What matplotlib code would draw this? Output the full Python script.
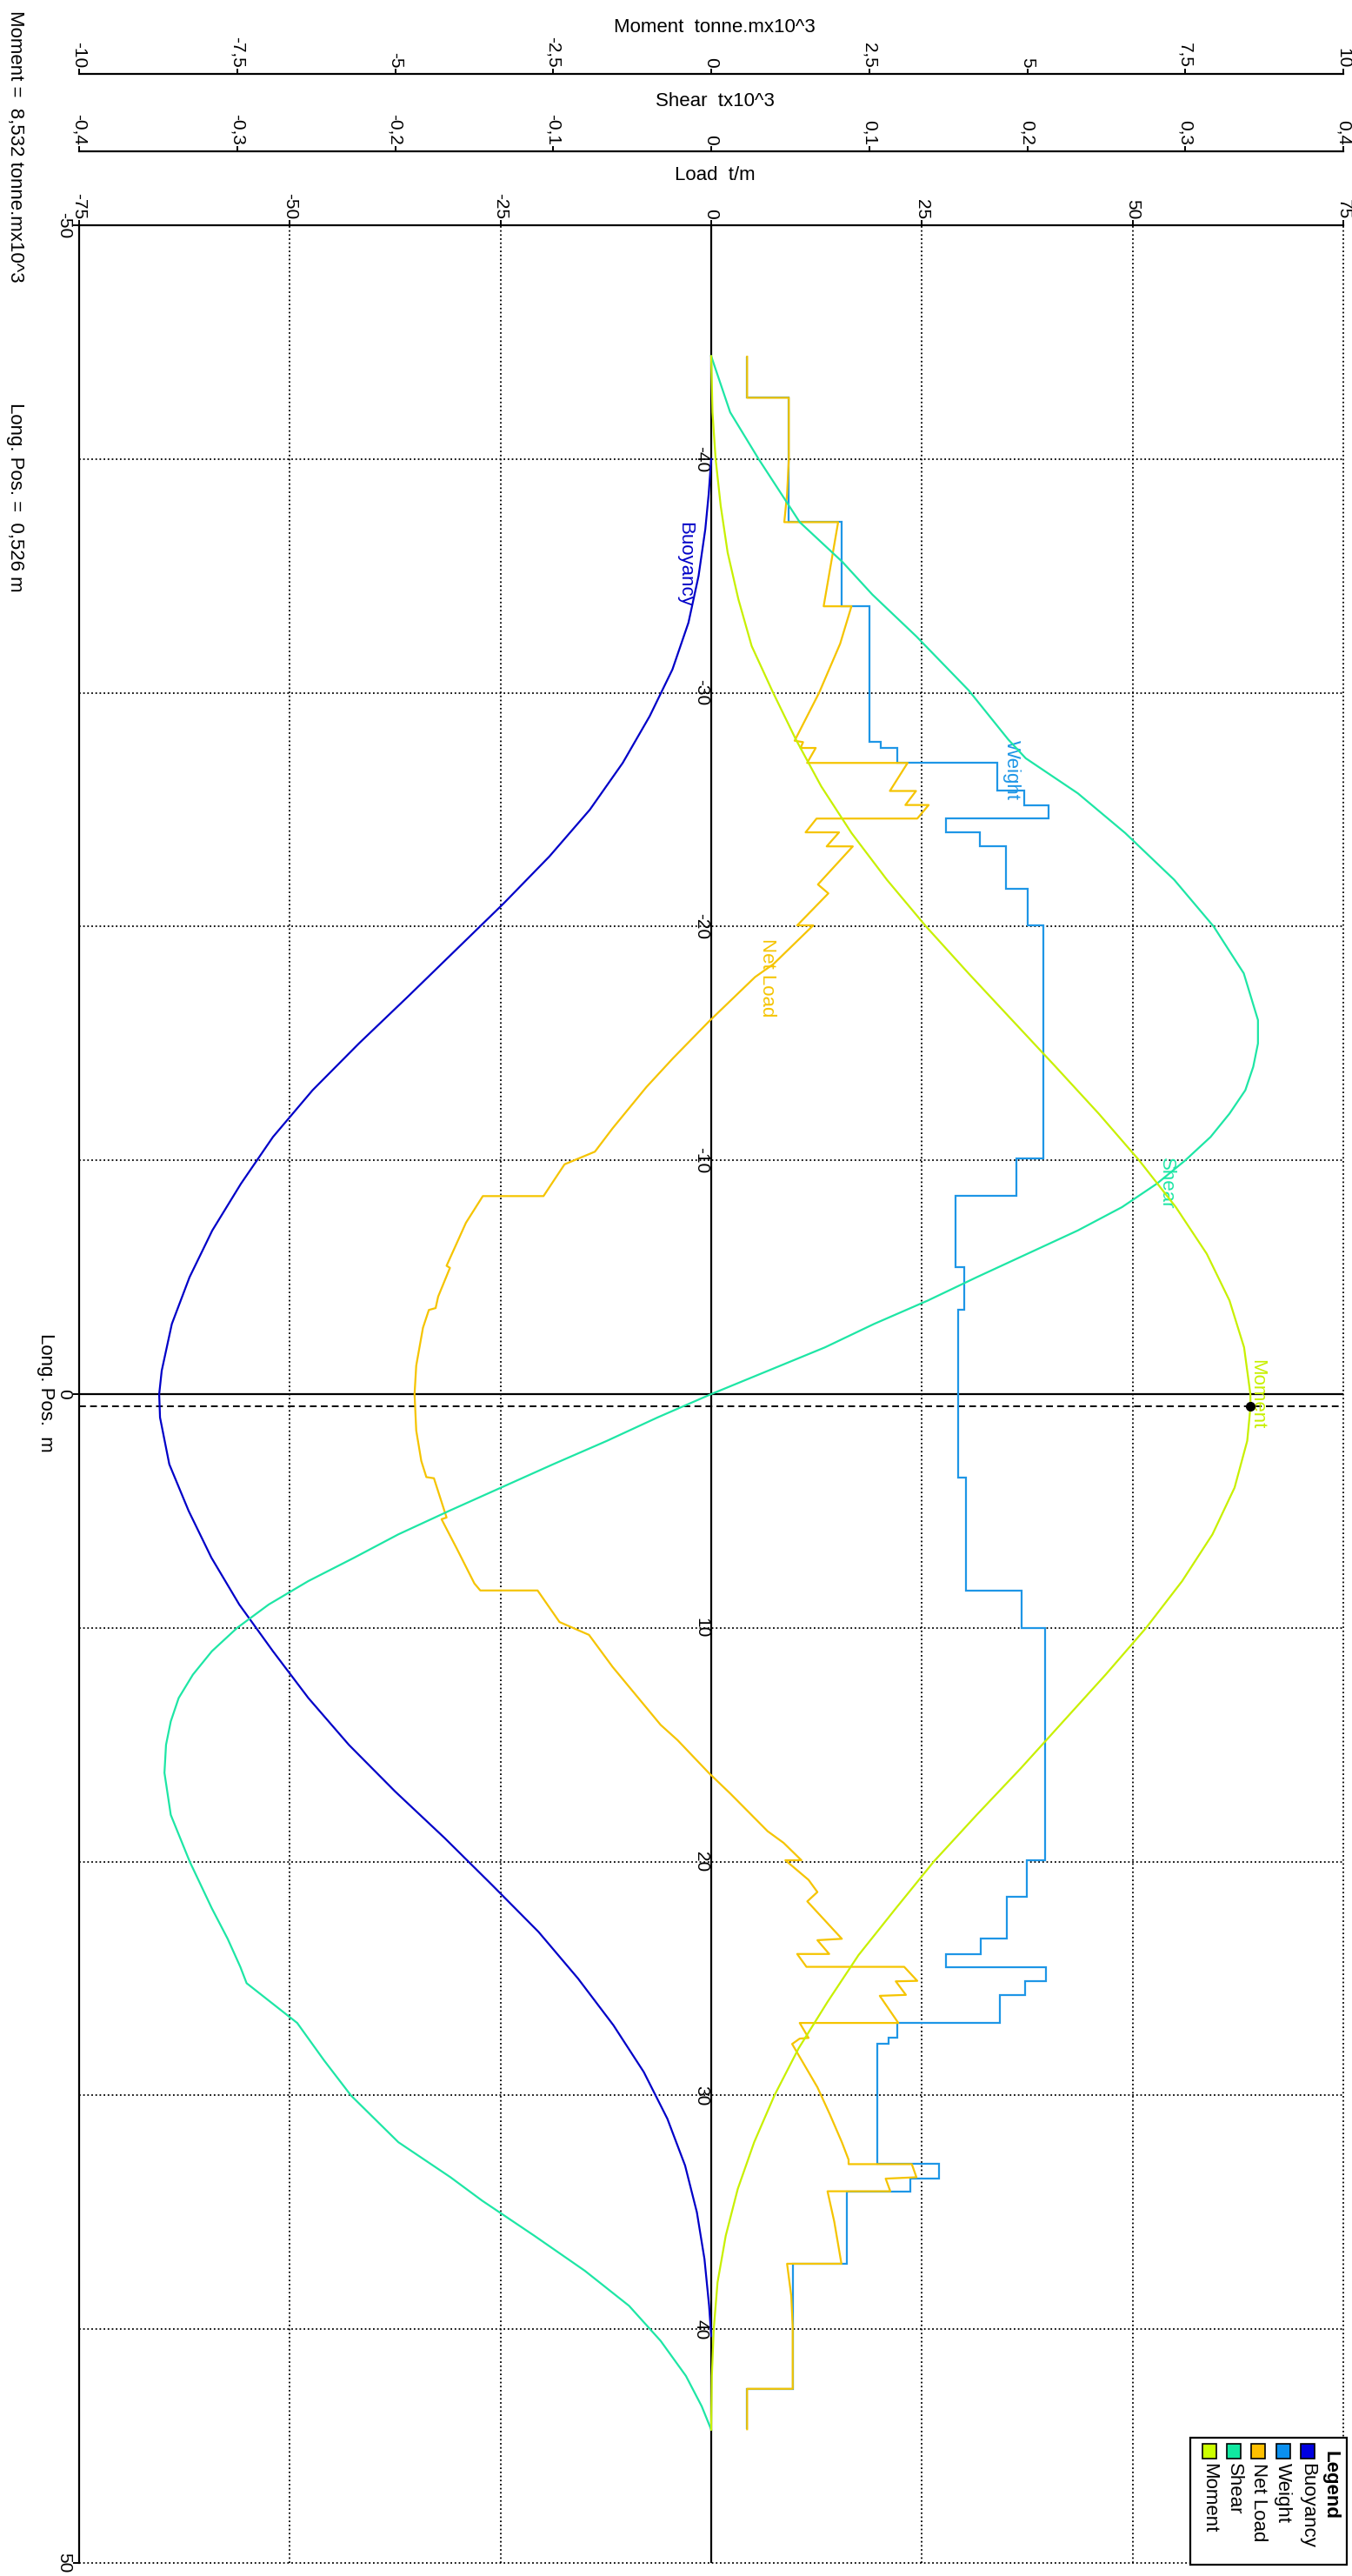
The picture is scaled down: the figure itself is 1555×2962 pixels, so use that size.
import numpy as np
import matplotlib.pyplot as plt
from matplotlib.ticker import FixedLocator, FuncFormatter
from matplotlib.patches import Rectangle
from matplotlib.transforms import offset_copy

plt.rcParams.update({
    'font.family': ['Liberation Sans', 'DejaVu Sans'],
    'font.size': 16,
})

# buoyancy along the hull, t/m
buoy_pos = [-40.0, -38.5, -37.0, -35.0, -33.0, -31.0, -29.0, -27.0, -25.0, -23.0,
            -21.0, -19.0, -17.0, -15.0, -13.0, -11.0, -9.0, -7.0, -5.0, -3.0,
            -1.0, 0.0, 1.0, 3.0, 5.0, 7.0, 9.0, 11.0, 13.0, 15.0,
            17.0, 19.0, 21.0, 23.0, 25.0, 27.0, 29.0, 31.0, 33.0, 35.0,
            37.0, 39.0, 40.3]
buoy_load = [0.0, -0.3, -0.7, -1.5, -2.7, -4.6, -7.3, -10.5, -14.4, -19.2,
             -24.6, -30.3, -36.0, -41.8, -47.3, -52.0, -55.8, -59.2, -61.9, -64.0,
             -65.2, -65.5, -65.4, -64.3, -62.0, -59.3, -56.0, -52.0, -47.8, -43.0,
             -37.5, -31.6, -26.0, -20.5, -15.8, -11.6, -8.0, -5.2, -3.1, -1.7,
             -0.8, -0.25, 0.0]

# weight distribution: station edges and the load on each interval, t/m
weight_edges = [-44.38, -42.62, -37.30, -33.70, -27.89, -27.64, -27.00, -25.80, -25.20, -24.62,
                -24.03, -23.43, -21.60, -20.05, -10.10, -8.47, -5.45, -3.60, 3.56, 8.40,
                10.00, 19.94, 21.50, 23.30, 23.95, 24.50, 25.12, 25.70, 26.90, 27.54,
                27.80, 32.94, 33.56, 34.10, 37.20, 42.55, 44.28]
weight_load = [4.26, 9.21, 15.5, 18.78, 20.08, 22.1, 33.97, 37.17, 40.0, 27.89,
               31.9, 35.0, 37.6, 39.4, 36.2, 29.0, 30.0, 29.3, 30.2, 36.8,
               39.6, 37.4, 35.1, 32.0, 27.9, 39.75, 37.2, 34.2, 22.1, 21.0,
               19.75, 27.0, 23.6, 16.1, 9.67, 4.26]

# net load, t/m
net_pos = [-44.38, -42.62, -42.62, -40.0, -38.5, -37.3, -37.3, -33.7, -33.7, -32.1,
           -30.0, -27.95, -27.89, -27.64, -27.64, -27.0, -27.0, -25.8, -25.8, -25.2,
           -25.2, -24.62, -24.62, -24.03, -24.03, -23.43, -23.43, -21.8, -21.42, -20.05,
           -20.05, -18.4, -17.84, -15.93, -14.38, -13.13, -11.37, -10.37, -9.83, -8.47,
           -8.47, -7.33, -5.49, -5.4, -4.17, -3.68, -3.6, -2.84, -1.22, 0.0,
           1.56, 2.86, 3.55, 3.6, 5.28, 5.35, 6.6, 8.1, 8.4, 8.4,
           9.75, 10.3, 11.67, 14.15, 14.8, 16.2, 17.1, 18.7, 19.2, 19.94,
           19.94, 20.78, 21.3, 21.7, 23.3, 23.36, 23.95, 23.95, 24.5, 24.5,
           25.1, 25.12, 25.7, 25.74, 26.9, 26.9, 27.54, 27.57, 27.8, 29.65,
           30.83, 32.0, 32.75, 32.94, 32.94, 33.5, 33.56, 34.1, 34.1, 35.4,
           37.2, 37.2, 38.58, 39.92, 42.55, 42.55, 44.28]
net_load = [4.26, 4.26, 9.21, 9.21, 9.0, 8.67, 15.06, 13.34, 16.64, 15.3,
            12.8, 9.9, 10.9, 10.6, 12.4, 11.38, 23.3, 21.2, 24.3, 23.04,
            25.8, 24.45, 12.5, 11.2, 15.17, 13.7, 16.8, 12.66, 13.9, 10.2,
            12.1, 7.4, 5.2, -0.3, -4.5, -7.7, -11.7, -13.8, -17.4, -19.9,
            -27.1, -29.1, -31.4, -31.0, -32.4, -32.7, -33.5, -34.2, -35.0, -35.2,
            -35.0, -34.4, -33.8, -32.9, -31.4, -32.0, -30.2, -28.1, -27.4, -20.6,
            -18.0, -14.5, -11.7, -6.0, -4.0, -0.3, 2.3, 6.7, 8.6, 10.7,
            8.8, 11.55, 12.6, 11.4, 15.5, 12.6, 14.0, 10.2, 11.3, 22.9,
            24.45, 21.9, 23.1, 20.0, 22.2, 10.5, 11.55, 10.5, 9.6, 12.6,
            14.1, 15.5, 16.3, 16.3, 23.8, 24.35, 20.7, 21.25, 13.8, 14.6,
            15.45, 9.0, 9.5, 9.67, 9.67, 4.26, 4.26]

# shear force, tonne x10^3
shear_pos = [-44.4, -42.0, -40.0, -37.3, -35.6, -34.2, -32.4, -30.1, -28.0, -27.2,
             -25.7, -24.0, -22.0, -20.0, -18.0, -16.0, -15.0, -14.0, -13.0, -12.0,
             -11.0, -10.0, -9.0, -8.0, -7.0, -6.0, -5.0, -4.0, -3.0, -2.0,
             -1.0, 0.0, 1.0, 2.0, 3.0, 4.0, 5.0, 6.0, 7.0, 8.0,
             9.0, 10.0, 11.0, 12.0, 13.0, 14.0, 15.0, 16.2, 18.0, 20.0,
             22.0, 23.3, 24.5, 25.2, 26.9, 28.5, 30.0, 32.0, 33.5, 34.5,
             36.0, 37.5, 39.0, 40.5, 42.0, 43.3, 44.3]
shear_kt = [0.0, 0.012, 0.030, 0.056, 0.083, 0.102, 0.130, 0.163, 0.188, 0.199,
            0.232, 0.262, 0.293, 0.318, 0.337, 0.346, 0.346, 0.343, 0.338, 0.328,
            0.316, 0.300, 0.282, 0.260, 0.232, 0.200, 0.168, 0.137, 0.103, 0.072,
            0.036, 0.0, -0.034, -0.066, -0.100, -0.133, -0.166, -0.198, -0.226, -0.255,
            -0.280, -0.300, -0.316, -0.328, -0.337, -0.342, -0.345, -0.346, -0.342, -0.330,
            -0.316, -0.306, -0.298, -0.294, -0.262, -0.245, -0.228, -0.198, -0.165, -0.145,
            -0.112, -0.080, -0.052, -0.032, -0.016, -0.006, 0.0]

# bending moment, tonne.m x10^3
moment_pos = [-44.4, -42.0, -40.0, -38.0, -36.0, -34.0, -32.0, -30.0, -28.0, -26.0,
              -24.0, -22.0, -20.0, -18.0, -16.0, -14.0, -12.0, -10.0, -8.0, -6.0,
              -4.0, -2.0, 0.0, 0.526, 2.0, 4.0, 6.0, 8.0, 10.0, 12.0,
              14.0, 16.0, 18.0, 20.0, 22.0, 24.0, 26.0, 28.0, 30.0, 32.0,
              34.0, 36.0, 38.0, 40.0, 42.0, 44.3]
moment_ktm = [0.0, 0.02, 0.07, 0.15, 0.26, 0.43, 0.64, 0.98, 1.34, 1.74,
              2.22, 2.78, 3.40, 4.07, 4.76, 5.45, 6.13, 6.77, 7.35, 7.84,
              8.20, 8.43, 8.53, 8.532, 8.48, 8.28, 7.93, 7.45, 6.88, 6.24,
              5.57, 4.90, 4.20, 3.52, 2.92, 2.33, 1.84, 1.38, 1.00, 0.68,
              0.42, 0.23, 0.10, 0.04, 0.01, 0.0]

# cursor read-out
cursor_pos = 0.526
cursor_moment = 8.532

load_ticks = [-75, -50, -25, 0, 25, 50, 75]
shear_ticks = [-0.4, -0.3, -0.2, -0.1, 0, 0.1, 0.2, 0.3, 0.4]
moment_ticks = [-10, -7.5, -5, -2.5, 0, 2.5, 5, 7.5, 10]
pos_ticks = [-40, -30, -20, -10, 10, 20, 30, 40]

series_names = ['Buoyancy', 'Weight', 'Net Load', 'Shear', 'Moment']
line_colors = ['#0000c8', '#1e96e6', '#f5c400', '#1ee6a5', '#c8f000']
swatch_colors = ['#0000e0', '#0a90f0', '#ffc000', '#10e8a0', '#ccff00']

W, H = 1555, 2962


def fx(px):
    return px / W


def fy(py):
    return 1 - py / H


def comma(v, pos=None):
    return ('%g' % v).replace('.', ',')


fig = plt.figure(figsize=(W / 100, H / 100), dpi=100)
ax = fig.add_axes([fx(91), fy(2947), fx(1545) - fx(91), fy(259) - fy(2947)])
ax_sh = ax.twiny()
ax_mo = ax.twiny()

ax.set_xlim(-75, 75)
ax.set_ylim(50, -50)
ax_sh.set_xlim(-0.4, 0.4)
ax_mo.set_xlim(-10, 10)

ax.xaxis.tick_top()
for a, ticks, out in [(ax, load_ticks, 0), (ax_sh, shear_ticks, 61.2), (ax_mo, moment_ticks, 125.3)]:
    a.xaxis.set_major_locator(FixedLocator(ticks))
    a.xaxis.set_major_formatter(FuncFormatter(comma))
    a.tick_params(axis='x', which='both', top=True, bottom=False, labeltop=True,
                  labelbottom=False, labelrotation=-90, labelsize=15,
                  length=4, width=1.4, pad=1)
    for side in ['left', 'right', 'bottom']:
        a.spines[side].set_visible(False)
    a.spines['top'].set_linewidth(1.6)
    if out:
        a.spines['top'].set_position(('outward', out))

ax.spines['left'].set_visible(True)
ax.spines['left'].set_linewidth(1.6)
ax.yaxis.set_major_locator(FixedLocator([-50, 0, 50]))
ax.tick_params(axis='y', length=5, width=1.4, labelleft=False)

# grid
dots = (0, (1, 1.6))
for v in [-50, -25, 25, 50, 75]:
    ax.axvline(v, color='black', lw=1.3, ls=dots, clip_on=False, zorder=1)
for v in pos_ticks + [50]:
    ax.axhline(v, color='black', lw=1.3, ls=dots, clip_on=False, zorder=1)
ax.axvline(0, color='black', lw=1.6, zorder=1)
ax.axhline(0, color='black', lw=1.6, zorder=1)
ax.axhline(cursor_pos, color='black', lw=1.4, ls=(0, (4, 2.5)), zorder=1)

# position labels: ends and midship on the left, stations along the zero line
ytr = offset_copy(ax.get_yaxis_transform(), fig=fig, x=-5.5, y=0, units='points')
for v in [-50, 0, 50]:
    ax.text(0, v, comma(v), transform=ytr, rotation=-90, ha='right', va='center', fontsize=15)
ztr = offset_copy(ax.transData, fig=fig, x=-1.5, y=0, units='points')
for v in pos_ticks:
    ax.text(0, v, comma(v), transform=ztr, rotation=-90, ha='right', va='center', fontsize=15)

lw = 1.6
ax.plot(buoy_load, buoy_pos, color=line_colors[0], lw=lw, zorder=3)
ax.stairs(weight_load, weight_edges, orientation='horizontal', baseline=None,
          color=line_colors[1], lw=lw, zorder=3)
ax.plot(net_load, net_pos, color=line_colors[2], lw=lw, zorder=4)
ax_sh.plot(shear_kt, shear_pos, color=line_colors[3], lw=lw)
ax_mo.plot(moment_ktm, moment_pos, color=line_colors[4], lw=lw)
ax_mo.plot([cursor_moment], [cursor_pos], 'o', color='black', ms=7)

# curve labels
curve_labels = [(-3.1, -35.5), (35.6, -26.7), (6.7, -17.8), (54.0, -9.0), (64.7, 0.0)]
for (lx, ly), name, c in zip(curve_labels, series_names, line_colors):
    ax.text(lx, ly, name, color=c, rotation=-90, ha='center', va='center', fontsize=16, zorder=5)

# axis titles
fig.text(fx(822), fy(37), 'Moment  tonne.mx10^3', ha='center', va='baseline', fontsize=16)
fig.text(fx(822), fy(122), 'Shear  tx10^3', ha='center', va='baseline', fontsize=16)
fig.text(fx(822), fy(207), 'Load  t/m', ha='center', va='baseline', fontsize=16)
fig.text(fx(52), fy(1601), 'Long. Pos.  m', rotation=-90, ha='center', va='center', fontsize=16)

# read-out at the cursor
fig.text(fx(17), fy(12), 'Moment =  ' + comma(cursor_moment) + ' tonne.mx10^3',
         rotation=-90, ha='center', va='top', fontsize=16)
fig.text(fx(17), fy(463), 'Long. Pos. =  ' + comma(cursor_pos) + ' m',
         rotation=-90, ha='center', va='top', fontsize=16)

# legend box
fig.add_artist(Rectangle((fx(1369), fy(2949)), fx(1549) - fx(1369), fy(2803) - fy(2949),
                         transform=fig.transFigure, facecolor='white', edgecolor='black',
                         lw=1.6, zorder=10))
fig.text(fx(1530), fy(2818), 'Legend', rotation=-90, ha='center', va='top',
         fontsize=16, fontweight='bold', zorder=11)
for i, (name, c) in enumerate(zip(series_names, swatch_colors)):
    cx = 1504 - i * 28.3
    fig.add_artist(Rectangle((fx(cx - 8), fy(2827)), fx(16), 17 / H,
                             transform=fig.transFigure, facecolor=c, edgecolor='black',
                             lw=1.2, zorder=11))
    fig.text(fx(cx), fy(2832), name, rotation=-90, ha='center', va='top',
             fontsize=16, zorder=11)

fig.savefig('out.png', dpi=100)
